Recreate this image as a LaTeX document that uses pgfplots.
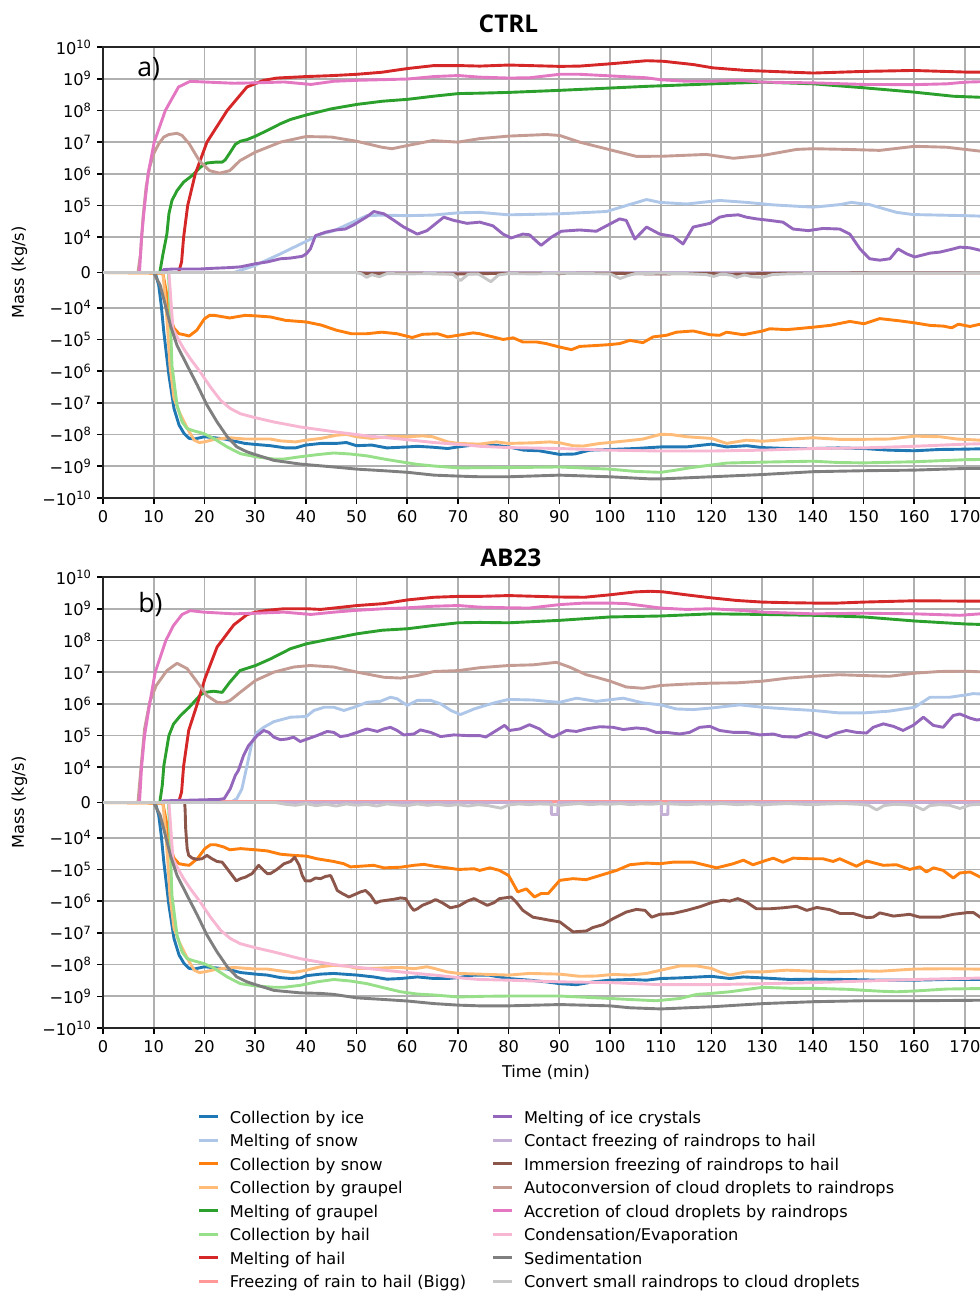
\documentclass[border=0pt]{standalone}
\usepackage{fontspec}
\setmainfont{DejaVu Sans}
\newfontfamily\osans{Open Sans}
\usepackage{pgfplots}
\pgfplotsset{compat=1.18}
\definecolor{c1}{HTML}{1F77B4}
\definecolor{c2}{HTML}{AEC7E8}
\definecolor{c3}{HTML}{FF7F0E}
\definecolor{c4}{HTML}{FFBB78}
\definecolor{c5}{HTML}{2CA02C}
\definecolor{c6}{HTML}{98DF8A}
\definecolor{c7}{HTML}{D62728}
\definecolor{c8}{HTML}{FF9896}
\definecolor{c9}{HTML}{9467BD}
\definecolor{c10}{HTML}{C5B0D5}
\definecolor{c11}{HTML}{8C564B}
\definecolor{c12}{HTML}{C49C94}
\definecolor{c13}{HTML}{E377C2}
\definecolor{c14}{HTML}{F7B6D2}
\definecolor{c15}{HTML}{7F7F7F}
\definecolor{c16}{HTML}{C7C7C7}
\definecolor{gridc}{HTML}{B0B0B0}
\newcommand\tp[1]{10\raisebox{0.36em}{\fontsize{5.7pt}{6pt}\selectfont #1}}
\pgfplotsset{
  panel/.style={
    scale only axis, width=443.65pt, height=225.5pt,
    xmin=0, xmax=175, ymin=-7.11111, ymax=7.11111,
    xtick={0,10,...,170},
    xticklabels={0,10,20,30,40,50,60,70,80,90,100,110,120,130,140,150,160,170},
    ytick={-7.11111,-6.11111,-5.11111,-4.11111,-3.11111,-2.11111,-1.11111,0,1.11111,2.11111,3.11111,4.11111,5.11111,6.11111,7.11111},
    yticklabels={−\tp{10},−\tp{9},−\tp{8},−\tp{7},−\tp{6},−\tp{5},−\tp{4},0,\tp{4},\tp{5},\tp{6},\tp{7},\tp{8},\tp{9},\tp{10}},
    tick align=outside, tick pos=left, major tick length=2.9pt,
    tick style={black, line width=0.8pt},
    axis line style={black!85, line width=0.9pt},
    grid=major, major grid style={gridc, line width=0.9pt},
    xticklabel style={anchor=north, inner sep=0pt, yshift=-2.9pt},
    yticklabel style={anchor=east, inner sep=0pt, xshift=-2.9pt},
    y filter/.expression={abs(y)<10000 ? y*0.000111111 : (y<0 ? -1 : 1)*(ln(abs(y)+1)*0.4342945-2.888889)},
    every axis plot/.append style={line width=1.45pt, line join=round, no markers},
  },
}
\begin{document}
\begin{tikzpicture}[font=\fontsize{8.1pt}{9.7pt}\selectfont]
\path[use as bounding box] (0pt,0pt) rectangle (490pt,-645.5pt);

%================ CTRL =================
\begin{axis}[panel, at={(51.5pt,-249pt)}, anchor=south west]
\addplot[c1] coordinates {(0,0)(10.3,0)(11,-3700)(11.5,-9500)(12,-5.9e4)(13,-1.35e6)(14,-1.5e7)(15,-5e7)(16,-9.3e7)(17,-1.32e8)(18,-1.38e8)(20,-1.17e8)(22,-1.26e8)(24,-1.38e8)(26,-1.62e8)(28,-1.9e8)(30,-2.04e8)(33,-2.24e8)(36,-2.63e8)(38,-2.63e8)(40,-2.14e8)(43,-1.9e8)(46,-1.9e8)(48,-1.78e8)(50,-2.24e8)(53,-2.14e8)(56,-2.63e8)(60,-2.45e8)(62,-2.34e8)(65,-2.5e8)(68,-2.75e8)(70,-2.45e8)(73,-2.14e8)(76,-2.04e8)(80,-2.45e8)(83,-3.1e8)(86,-3.24e8)(90,-4.2e8)(93,-4.1e8)(96,-3.1e8)(100,-2.95e8)(105,-2.75e8)(110,-2.45e8)(115,-2.45e8)(120,-2e8)(123,-2.45e8)(127,-2.24e8)(130,-2.57e8)(135,-2.75e8)(140,-2.75e8)(145,-2.63e8)(150,-2.75e8)(155,-3.1e8)(160,-3.24e8)(165,-2.95e8)(170,-2.88e8)(176,-2.75e8)};
\addplot[c2] coordinates {(0,0)(25.8,0)(30,2000)(35,5300)(40,8800)(43,1.26e4)(45.5,1.6e4)(50,3.4e4)(52,4.8e4)(55,5e4)(60,4.8e4)(65,5e4)(70,5.9e4)(74.3,6.1e4)(80,5.1e4)(90,5.5e4)(99.3,6.5e4)(103.2,1e5)(107.2,1.55e5)(109.8,1.26e5)(115.1,1.12e5)(121.6,1.45e5)(126.9,1.26e5)(132.2,1.05e5)(140.1,8.9e4)(145.3,1.07e5)(147.6,1.26e5)(151.2,1.07e5)(156.5,6.1e4)(159.8,5.2e4)(165,5e4)(170.1,4.8e4)(176,4.5e4)};
\addplot[c3] coordinates {(0,0)(11.8,-200)(12.5,-5600)(13.1,-1.74e4)(14,-4.4e4)(15,-6.6e4)(16,-7.1e4)(17,-7.8e4)(18.5,-5.1e4)(20,-2.24e4)(21,-1.74e4)(22,-1.74e4)(25,-2.1e4)(28,-1.74e4)(30,-1.8e4)(33,-1.95e4)(36,-2.5e4)(40,-2.8e4)(43,-3.5e4)(46,-5.1e4)(49,-6.6e4)(52,-6.6e4)(55,-5.9e4)(58,-6.6e4)(61,-8.7e4)(63,-6.9e4)(66,-6.6e4)(68,-8.3e4)(70,-7.4e4)(73,-6.2e4)(74.3,-6.6e4)(76.9,-8.3e4)(78.9,-1e5)(80.9,-8.9e4)(82.8,-1.2e5)(85.5,-1.2e5)(87.4,-1.35e5)(90.1,-1.74e5)(92.4,-2.1e5)(94,-1.66e5)(97.3,-1.55e5)(100,-1.45e5)(101.9,-1.35e5)(103.9,-1.07e5)(106.5,-1.26e5)(108.5,-8.3e4)(111.1,-7.4e4)(113.1,-5.9e4)(116.4,-5.4e4)(119.7,-7.1e4)(121.6,-7.4e4)(123,-5.9e4)(126.3,-7.1e4)(130.1,-5.4e4)(131.5,-4.6e4)(134.8,-4.9e4)(136.8,-4.6e4)(140.1,-4.1e4)(143.4,-3.6e4)(147.3,-2.7e4)(150.1,-3.2e4)(153.2,-2.2e4)(157.2,-2.6e4)(160.1,-3e4)(163.1,-3.6e4)(165.8,-3.8e4)(167.4,-4.3e4)(168.7,-3.3e4)(171,-3.9e4)(173,-3.3e4)(176,-3.3e4)};
\addplot[c4] coordinates {(0,0)(11.8,0)(12.3,-7500)(12.8,-5.9e4)(13.2,-6.6e5)(14,-7.2e6)(15,-1.9e7)(16,-4e7)(17,-8.1e7)(18,-1.5e8)(19,-1.78e8)(20,-1.7e8)(22,-1.41e8)(25,-1.26e8)(28,-1.38e8)(33,-1.38e8)(35,-1.58e8)(38,-1.7e8)(40,-1.5e8)(43,-1.32e8)(46,-1.05e8)(48,-9.8e7)(50,-1.17e8)(53,-1.32e8)(57,-1.12e8)(60,-1.17e8)(63,-1.1e8)(65,-1.17e8)(68,-1.7e8)(70,-1.9e8)(74.3,-2e8)(77.6,-1.7e8)(80,-1.9e8)(84.8,-1.82e8)(88.1,-1.7e8)(90.1,-1.82e8)(92.7,-2.24e8)(94.7,-2.3e8)(98,-1.9e8)(100,-1.78e8)(103.2,-1.58e8)(106.5,-1.38e8)(110,-9.8e7)(112.1,-1e8)(115.1,-1.17e8)(120,-1.32e8)(123,-1.9e8)(126.9,-1.5e8)(130.1,-1.62e8)(135.1,-1.41e8)(140.1,-1.26e8)(145.1,-1.41e8)(150.1,-1.41e8)(155.1,-1.38e8)(160.1,-1.12e8)(165.1,-1.17e8)(168.4,-1.38e8)(173,-1.5e8)(176,-1.5e8)};
\addplot[c5] coordinates {(0,0)(11.2,0)(11.8,5000)(12.6,1.26e4)(13,5.5e4)(13.6,1.45e5)(14.6,2.95e5)(15.9,5.5e5)(17.6,8.9e5)(19.2,1.62e6)(20.5,2.2e6)(22.2,2.34e6)(23.5,2.34e6)(24.1,2.75e6)(25.1,4.8e6)(26.1,8.5e6)(27.1,1.07e7)(28.4,1.2e7)(30.1,1.55e7)(32.4,2.34e7)(35,3.8e7)(37,5.2e7)(40.1,7.2e7)(45,1.12e8)(50.1,1.55e8)(55.1,1.95e8)(60.1,2.24e8)(65.1,2.8e8)(70.1,3.4e8)(74.3,3.5e8)(80,3.7e8)(90.1,4.3e8)(107.2,5.75e8)(120.3,6.9e8)(130.1,7.8e8)(140.1,6.9e8)(149.9,5.2e8)(159.8,3.8e8)(167.7,2.8e8)(173,2.6e8)(176,2.5e8)};
\addplot[c6] coordinates {(0,0)(12.9,0)(13.2,-1e4)(13.6,-6.6e5)(14.6,-1.17e7)(15.6,-4e7)(16.6,-6.5e7)(17.9,-7.6e7)(19.9,-9.3e7)(21.8,-1.32e8)(24.5,-2.45e8)(27.1,-4e8)(30.1,-5e8)(33.7,-5.9e8)(35.7,-5.9e8)(38.9,-5e8)(42.2,-4.3e8)(45.5,-3.8e8)(48.8,-4.1e8)(52.1,-4.7e8)(55.4,-5.9e8)(58.7,-7.2e8)(62,-8.7e8)(65.3,-9.8e8)(70.1,-1.12e9)(80,-1.1e9)(90,-1.05e9)(100,-1.23e9)(105,-1.45e9)(110,-1.55e9)(113,-1.32e9)(116,-1.1e9)(120,-9.1e8)(123,-7.9e8)(130,-7.4e8)(140,-6.9e8)(145,-7.6e8)(150,-7.8e8)(160,-7.2e8)(170,-6.2e8)(176,-6e8)};
\addplot[c7] coordinates {(0,0)(14.9,0)(15.5,3000)(15.9,1e4)(16.7,1e5)(18.2,1e6)(20.5,1e7)(24.5,1e8)(28.4,5.5e8)(31.7,8.9e8)(34.3,1.05e9)(40.1,1.17e9)(45,1.25e9)(50.1,1.38e9)(55,1.6e9)(60.1,2.1e9)(65.3,2.6e9)(70.1,2.6e9)(74.3,2.5e9)(80,2.7e9)(90.1,2.45e9)(94,2.5e9)(100,2.95e9)(107.2,3.7e9)(110.5,3.55e9)(116.4,2.8e9)(120.3,2.2e9)(126.9,1.82e9)(130.2,1.74e9)(140.1,1.51e9)(150,1.7e9)(159.8,1.82e9)(170.1,1.62e9)(176,1.62e9)};
\addplot[c8] coordinates {(0,0)(176,0)};
\addplot[c9] coordinates {(0,0)(11.5,0)(12,840)(13.9,1000)(19.2,1000)(21.8,1200)(25.1,1400)(27.1,1600)(30.1,2500)(32.4,3000)(35,3900)(37,4100)(39.3,4600)(40.1,5300)(40.9,6700)(41.9,1.12e4)(43.9,1.45e4)(45.9,1.7e4)(47.8,1.82e4)(49.5,2.5e4)(52.1,4.5e4)(53.4,6.5e4)(55.4,5.5e4)(57.4,3.4e4)(59.3,2.1e4)(62,1.26e4)(63.9,1.62e4)(67.2,4.3e4)(69.2,3.4e4)(71.8,2.75e4)(74.3,3e4)(76.9,2.3e4)(78.9,1.26e4)(80.5,9800)(82.8,1.26e4)(84.1,1.2e4)(86.4,7700)(88.4,1e4)(90.4,1.55e4)(94,1.7e4)(97.3,1.55e4)(99.3,2.3e4)(101.9,3.8e4)(103.2,3.4e4)(104.9,9500)(107.2,2.1e4)(109.8,1.26e4)(112.4,1.07e4)(114.4,8100)(116.4,2.1e4)(119.7,2.75e4)(121.6,4.3e4)(123,4.8e4)(125.3,5.1e4)(126.9,4.3e4)(128.9,3.8e4)(131.5,3.4e4)(134.1,3e4)(136.1,1.82e4)(139.1,1.62e4)(142,1.9e4)(145.3,1.82e4)(147.3,1.26e4)(149.3,6700)(151.2,3900)(153.2,3500)(155.2,3900)(156.8,6700)(158.5,5300)(160.1,4400)(163.1,5500)(165.1,5800)(167.7,6700)(169,7200)(171,7000)(173,6300)(176,6000)};
\addplot[c10] coordinates {(0,0)(176,0)};
\addplot[c11] coordinates {(0,0)(50,0)(52,-300)(60,-200)(70,-400)(76,-300)(80,-200)(90,-300)(100,-200)(108,-400)(120,-300)(124,-500)(130,-300)(140,-200)(150,-100)(176,-100)};
\addplot[c12] coordinates {(0,0)(6.9,0)(7.4,5300)(7.9,4.3e4)(8.5,3.8e5)(9.2,1.62e6)(10,4.3e6)(11,8.9e6)(12,1.45e7)(13,1.74e7)(14.6,1.9e7)(15.6,1.62e7)(17,8.9e6)(19,2.6e6)(21,1.26e6)(23,1.05e6)(25,1.26e6)(27,2.6e6)(30,4.8e6)(35,1e7)(40,1.5e7)(45,1.45e7)(50,1.07e7)(55,6.9e6)(57,6.2e6)(60,7.8e6)(65,1.12e7)(70,1e7)(74.3,1.29e7)(80,1.55e7)(87.4,1.74e7)(90.1,1.62e7)(94,1e7)(100,5.75e6)(105.2,3.55e6)(110.5,3.6e6)(119,4.1e6)(124.3,3.1e6)(130.1,3.8e6)(136.8,5.9e6)(140.1,6.2e6)(146.6,5.9e6)(153.2,5.5e6)(160.1,7.4e6)(166.4,6.9e6)(173,5.2e6)(176,5e6)};
\addplot[c13] coordinates {(0,0)(7.2,0)(7.6,1e4)(8.2,1e5)(8.9,1e6)(10.1,1e7)(12.3,1e8)(14.9,5.5e8)(17.2,8.3e8)(19.9,7.9e8)(25.8,7.2e8)(30.1,7.4e8)(35.7,7.9e8)(41,6.6e8)(45.5,8.3e8)(50.1,8.9e8)(60.1,9.8e8)(65.3,1.17e9)(70.1,1.26e9)(74.3,1.12e9)(80,1.05e9)(84.1,1.07e9)(90.1,1.38e9)(94,1.38e9)(100,1.23e9)(107.2,1.07e9)(110,9.3e8)(115.1,8.3e8)(120,8.3e8)(125.6,8.9e8)(130.1,7.8e8)(140.1,7.4e8)(150,6.6e8)(160,6.5e8)(166.4,6.9e8)(170.1,7.8e8)(176,8.3e8)};
\addplot[c14] coordinates {(0,0)(13,0)(13.5,-1e4)(13.8,-4.6e4)(14.6,-8.3e4)(15.9,-1.95e5)(17.2,-4e5)(19.2,-1.07e6)(21.2,-3.2e6)(23.2,-8.3e6)(25.1,-1.5e7)(27.1,-2.2e7)(30.1,-2.95e7)(33.7,-4e7)(38.9,-5.75e7)(45.5,-8.1e7)(52.1,-1.1e8)(58.7,-1.38e8)(65.3,-1.78e8)(71.8,-2.14e8)(74.3,-2.34e8)(80,-2.57e8)(90,-2.75e8)(100,-3.1e8)(110,-3.3e8)(120,-3.3e8)(130,-3.1e8)(140,-2.75e8)(150,-2.63e8)(160,-2.34e8)(170,-2e8)(176,-1.9e8)};
\addplot[c15] coordinates {(0,0)(10,0)(11.3,-3700)(12.3,-9300)(13.3,-3.6e4)(14.6,-1.55e5)(16.6,-6.6e5)(18.6,-2.75e6)(20.5,-1.17e7)(22.5,-4e7)(24.5,-1.17e8)(26.4,-2.45e8)(28.4,-3.5e8)(30.1,-4.3e8)(33.7,-6.5e8)(38.9,-8.5e8)(45.5,-1.05e9)(50.1,-1.23e9)(55.4,-1.38e9)(60.1,-1.55e9)(65.3,-1.9e9)(70.1,-2.04e9)(74.3,-2.14e9)(80,-2.14e9)(90,-1.9e9)(100,-2.14e9)(108,-2.5e9)(110,-2.5e9)(120,-2.14e9)(130,-1.82e9)(140,-1.48e9)(150,-1.38e9)(160,-1.32e9)(170,-1.17e9)(176,-1.17e9)};
\addplot[c16] coordinates {(0,0)(50,0)(51,-400)(52,-1400)(53,-600)(54.5,-1200)(56,-300)(60,-400)(65,-300)(69,-500)(70.5,-2300)(72,-500)(74,-400)(76.5,-2600)(78,-700)(80,-300)(85,-400)(90,-200)(95,-300)(100,-400)(102,-1700)(103.5,-900)(105,-300)(110,-200)(115,-300)(119,-600)(120.5,-1100)(122,-400)(124,-800)(125,-1400)(126.5,-700)(128,-1200)(130,-1400)(132,-600)(135,-400)(140,-300)(150,-200)(176,-100)};
\end{axis}

%================ AB23 =================
\begin{axis}[panel, at={(51.5pt,-514pt)}, anchor=south west]
\addplot[c1] coordinates {(0,0)(10.3,0)(11,-3700)(11.5,-9500)(12,-5.9e4)(13,-1.35e6)(14,-1.5e7)(15,-5e7)(16,-9.3e7)(17,-1.32e8)(18,-1.38e8)(20,-1.17e8)(22,-1.26e8)(24.5,-1.38e8)(27.1,-1.78e8)(30.1,-2e8)(32.4,-2.14e8)(35,-2.57e8)(37,-2.75e8)(39,-2.63e8)(40.1,-2.24e8)(42.9,-2e8)(45.5,-1.9e8)(48.2,-2.04e8)(50.1,-2.14e8)(53.4,-2.45e8)(56,-2.88e8)(58.7,-2.75e8)(62,-2.45e8)(65.3,-2.75e8)(67.9,-2.75e8)(70.1,-2.57e8)(73.2,-2.14e8)(76,-2.14e8)(80,-2.75e8)(84.1,-3.1e8)(87.4,-3.5e8)(90.1,-4e8)(93.4,-4.3e8)(96.7,-3.5e8)(100,-3.1e8)(103.9,-2.95e8)(107.2,-3.1e8)(110,-2.75e8)(113.8,-2.63e8)(120,-2.34e8)(123.6,-2.75e8)(126.3,-2.45e8)(130.1,-2.63e8)(135.5,-2.95e8)(140.1,-2.88e8)(146.7,-2.95e8)(153.2,-3.1e8)(160.1,-3.1e8)(166.4,-2.95e8)(176,-2.95e8)};
\addplot[c2] coordinates {(0,0)(25.1,0)(26.4,1100)(27.4,3900)(28.4,1.12e4)(29.4,6.2e4)(30.4,1.26e5)(31.7,1.82e5)(33.7,2.75e5)(37,3.8e5)(40.1,4e5)(41.6,6.2e5)(43.6,7.8e5)(45.5,7.8e5)(47.5,6.2e5)(49.5,7.8e5)(52.1,1.12e6)(54.7,1.2e6)(56.7,1.62e6)(58,1.45e6)(60,8.9e5)(62,1.29e6)(64.6,1.29e6)(66.6,1e6)(68.6,6.2e5)(70.5,4.6e5)(73.2,6.9e5)(75.8,9.3e5)(77.6,1.12e6)(80,1.38e6)(84.8,1.32e6)(88.4,1.17e6)(90.1,1.12e6)(93.4,1.51e6)(97.3,1.2e6)(100,1.35e6)(102.6,1.51e6)(106.5,1.07e6)(110,9.3e5)(113.1,6.9e5)(116.4,6.6e5)(120,7.4e5)(125.6,9.3e5)(130.1,7.8e5)(135.1,6.9e5)(140.1,6.2e5)(145.1,5.2e5)(150.1,5.2e5)(155.1,5.9e5)(160.1,7.8e5)(163.1,1.62e6)(167,1.62e6)(170.1,1.9e6)(171.6,2.1e6)(176,1.95e6)};
\addplot[c3] coordinates {(0,0)(11.8,-200)(12.5,-5400)(13.1,-1.74e4)(14,-4.4e4)(15,-6.6e4)(16.1,-7.1e4)(17,-7.4e4)(18.6,-4.6e4)(20.1,-2.2e4)(21.2,-1.66e4)(22.2,-1.66e4)(23.8,-1.95e4)(25,-2.4e4)(27.1,-2.2e4)(30.1,-2.4e4)(32.4,-2.6e4)(35,-3.3e4)(37.6,-3.6e4)(40.1,-3.8e4)(42.2,-4.6e4)(45.5,-5.6e4)(47.5,-6.6e4)(48.8,-8.3e4)(50.8,-7.9e4)(53.4,-7.4e4)(55.4,-8.9e4)(58.7,-8.5e4)(61.3,-7.4e4)(63.3,-6.9e4)(65.3,-7.9e4)(67.9,-8.9e4)(70.1,-1e5)(73.2,-9.5e4)(74.3,-1.07e5)(76.3,-8.9e4)(78.2,-1.07e5)(80,-1.55e5)(80.9,-2.8e5)(81.8,-5.1e5)(83.5,-4.1e5)(85.1,-7.4e5)(86.4,-5.75e5)(87.8,-5.75e5)(90.1,-2.2e5)(92.7,-1.95e5)(95.3,-2.1e5)(98,-1.55e5)(101.3,-1.07e5)(103.9,-7.1e4)(107.2,-6.3e4)(109.8,-6.6e4)(112.4,-5.9e4)(116.4,-5.9e4)(119.7,-7.9e4)(121,-8.9e4)(124.3,-6.6e4)(126.3,-5.1e4)(128.2,-7.1e4)(130.9,-5.1e4)(132.2,-4.4e4)(134.1,-5.9e4)(136.1,-4.4e4)(139.4,-4.6e4)(142,-4.6e4)(144,-5.6e4)(145.3,-4.6e4)(148.6,-7.9e4)(150.6,-5.4e4)(153.9,-7.4e4)(156.5,-7.1e4)(159.1,-1e5)(161.1,-8.3e4)(162.4,-1.2e5)(163.8,-8.9e4)(165.7,-1.07e5)(167.7,-1.86e5)(169,-1.29e5)(171,-1.2e5)(173,-1.74e5)(176,-2e5)};
\addplot[c4] coordinates {(0,0)(11.8,0)(12.3,-7500)(12.8,-5.9e4)(13.2,-6.6e5)(14,-7.2e6)(15,-1.9e7)(16,-4e7)(17,-8.1e7)(18,-1.5e8)(19,-1.78e8)(20,-1.7e8)(22.6,-1.38e8)(25.8,-1.23e8)(30.1,-1.38e8)(32.4,-1.38e8)(35,-1.58e8)(37.6,-1.78e8)(40.1,-1.5e8)(42.9,-1.17e8)(45.5,-1.05e8)(48.2,-1.12e8)(50.1,-1.32e8)(53.4,-1.32e8)(56,-1.26e8)(58.7,-1.23e8)(61.3,-1.35e8)(63.9,-1.17e8)(65.3,-1.32e8)(67.9,-1.7e8)(70.1,-1.9e8)(74.3,-2e8)(80,-2.14e8)(84.1,-1.9e8)(90.1,-2e8)(94,-2.34e8)(97.3,-2.29e8)(100.6,-2.04e8)(103.9,-2.14e8)(107.2,-1.9e8)(110,-1.5e8)(113.8,-1.1e8)(117.1,-1.1e8)(120,-1.32e8)(121.6,-1.7e8)(123.6,-2.14e8)(126.9,-1.7e8)(130.1,-1.7e8)(134.8,-1.5e8)(140.1,-1.62e8)(144,-1.7e8)(150.1,-1.58e8)(153.2,-1.62e8)(160.1,-1.38e8)(166.4,-1.35e8)(176,-1.41e8)};
\addplot[c5] coordinates {(0,0)(11.2,0)(11.7,5000)(12,1.12e4)(13,1e5)(13.9,2.3e5)(15.3,4.3e5)(17,7.8e5)(19.2,1.9e6)(20.1,2.3e6)(21.8,2.5e6)(23.5,2.3e6)(25,4.8e6)(27,1.12e7)(30.1,1.62e7)(33,2.6e7)(37,5.5e7)(40.1,7.8e7)(45,1.12e8)(50.1,1.62e8)(55.1,2.1e8)(60.1,2.34e8)(65.1,2.95e8)(70.1,3.6e8)(74.3,3.7e8)(80,3.6e8)(90.1,4.3e8)(100,5.5e8)(110,5.9e8)(120,6.9e8)(130.1,6.6e8)(140.1,6.2e8)(150.1,5.5e8)(160.1,4.1e8)(170.1,3.3e8)(176,3.1e8)};
\addplot[c6] coordinates {(0,0)(12.9,0)(13.2,-1e4)(13.6,-6.6e5)(14.6,-1.17e7)(15.6,-4e7)(16.6,-6.5e7)(17.9,-7.6e7)(19.9,-9.3e7)(21.8,-1.26e8)(24.5,-2.45e8)(27.1,-4e8)(30.1,-4.7e8)(33.7,-5.2e8)(35.7,-5.2e8)(38.9,-4.5e8)(42.2,-3.5e8)(45.5,-2.95e8)(48.8,-3.3e8)(52.1,-4e8)(55.4,-5.4e8)(58.7,-7.2e8)(62,-8.5e8)(65.3,-9.1e8)(70.1,-1.05e9)(75,-1e9)(80,-9.8e8)(90.1,-9.8e8)(100,-1.17e9)(103.9,-1.26e9)(109.1,-1.38e9)(113.8,-1.17e9)(117.1,-8.7e8)(120,-8.1e8)(123.6,-7.2e8)(130.1,-5.2e8)(135.5,-5.6e8)(140.1,-5.6e8)(146.7,-6e8)(153.2,-6.9e8)(156.5,-7.2e8)(160.1,-6.8e8)(166.4,-5.9e8)(176,-5.6e8)};
\addplot[c7] coordinates {(0,0)(14.9,0)(15.5,3000)(15.9,1.1e4)(16.9,1.45e5)(18.6,1e6)(20.1,6.2e6)(22.5,6.2e7)(25.8,3.1e8)(28.4,6.5e8)(30.1,7.8e8)(32.4,8.9e8)(35.7,1e9)(40.1,1e9)(42.9,9.5e8)(45.5,1.05e9)(50.1,1.26e9)(55.4,1.45e9)(60.1,1.9e9)(65.3,2.3e9)(70.1,2.45e9)(74.3,2.45e9)(80,2.6e9)(90.1,2.34e9)(95,2.3e9)(100,2.75e9)(105,3.4e9)(108,3.55e9)(110.5,3.4e9)(115,2.75e9)(120,2.2e9)(125,1.82e9)(130,1.62e9)(135,1.55e9)(140,1.51e9)(145,1.51e9)(150,1.62e9)(160,1.78e9)(170,1.74e9)(176,1.74e9)};
\addplot[c8] coordinates {(0,0)(20,0)(21,300)(176,300)};
\addplot[c9] coordinates {(0,0)(11.5,0)(12,470)(21.8,840)(22.5,800)(23.9,1100)(25.1,3900)(26.1,7700)(26.7,9100)(27.7,2.3e4)(28.7,4.8e4)(30.4,1e5)(31.7,1.45e5)(32.7,1.26e5)(33.7,8.9e4)(35,7.4e4)(36.3,7.8e4)(37.6,8.9e4)(38.9,6.5e4)(40.3,7.8e4)(42.2,1e5)(44.2,1.35e5)(45.5,1.26e5)(46.8,9.3e4)(48.2,1e5)(50.1,1.26e5)(52.1,1.62e5)(54.1,1.35e5)(55.4,1.62e5)(56.7,1.82e5)(58,1.45e5)(59.3,1.05e5)(61.3,1.12e5)(62.6,1.51e5)(64.6,1.26e5)(66.6,9.3e4)(69.2,1.05e5)(71.8,1e5)(74.3,1e5)(75.5,9e4)(77.6,1.45e5)(79.2,2.1e5)(80.2,1.45e5)(82.2,1.62e5)(84.1,2.2e5)(86.1,1.62e5)(87.4,1.12e5)(88.75,8.9e4)(91.4,1.45e5)(93.4,1.35e5)(95.3,1.62e5)(98,1.9e5)(100.6,1.82e5)(102.6,1.55e5)(105.2,1.74e5)(107.2,1.62e5)(109.1,1.26e5)(111.1,1.26e5)(113.75,1.12e5)(115.7,1.26e5)(117.7,1.82e5)(119.7,1.95e5)(121.6,1.45e5)(124.3,1.26e5)(126.9,1.26e5)(129.5,1.05e5)(132.2,1.12e5)(134.1,9.3e4)(136.8,8.9e4)(139.4,1.26e5)(142.7,8.7e4)(144.7,1.2e5)(146.6,1.45e5)(148.6,1.26e5)(150.6,1.2e5)(151.9,1.82e5)(153.9,2.34e5)(155.9,1.95e5)(157.8,1.45e5)(159.8,2.1e5)(161.8,3.8e5)(163.75,2.1e5)(165.7,1.82e5)(167.7,4.3e5)(169,4.8e5)(171,3.55e5)(172.3,3.1e5)(176,3.6e5)};
\addplot[c10] coordinates {(0,0)(88.4,0)(88.45,-3400)(89.7,-3400)(89.75,0)(110.1,0)(110.15,-3400)(111.4,-3400)(111.45,0)(176,0)};
\addplot[c11] coordinates {(0,0)(16.1,0)(16.2,-2000)(16.3,-7300)(16.6,-2.2e4)(16.9,-3.6e4)(17.6,-4.4e4)(18.6,-4.8e4)(19.5,-4.6e4)(20.5,-3.6e4)(21.5,-4.6e4)(22.5,-5.6e4)(23.5,-5.9e4)(24.5,-9.5e4)(25.5,-1.55e5)(26.3,-2.3e5)(27.1,-1.95e5)(28.1,-1.74e5)(29.4,-1.35e5)(30.7,-7.4e4)(31.7,-1.07e5)(32.4,-1.35e5)(33,-1.35e5)(34.3,-1e5)(35.7,-6.6e4)(37,-5.6e4)(37.8,-4.1e4)(38.7,-7.4e4)(39.3,-1.55e5)(39.9,-2.3e5)(40.9,-2.3e5)(41.9,-1.86e5)(42.9,-1.95e5)(43.9,-1.66e5)(44.9,-1.55e5)(45.5,-2.5e5)(46.2,-4.6e5)(47.2,-5.75e5)(48.5,-7.4e5)(49.8,-6e5)(50.8,-5.1e5)(51.8,-4.6e5)(52.8,-6.6e5)(53.8,-1.15e6)(54.7,-1e6)(56.1,-9.3e5)(57.4,-8.7e5)(58.7,-7.9e5)(59.7,-8.3e5)(60.7,-1.5e6)(61.3,-1.95e6)(62,-1.74e6)(63,-1.35e6)(64.3,-1.12e6)(65.6,-8.9e5)(66.9,-1.12e6)(68.5,-1.62e6)(70.2,-1.41e6)(71.8,-1e6)(73.2,-8.3e5)(74.5,-1.07e6)(75.8,-1.35e6)(77.1,-1.12e6)(78.2,-8.3e5)(80.5,-7.4e5)(81.5,-1.07e6)(82.8,-1.95e6)(84.8,-3.2e6)(86.4,-3.55e6)(88.1,-4e6)(90.1,-4.5e6)(91.4,-6.5e6)(92.7,-9.3e6)(95.3,-8.7e6)(96.6,-6.8e6)(98.6,-5.5e6)(100.6,-3.55e6)(103.2,-2.2e6)(105.2,-1.82e6)(106.9,-1.95e6)(108.2,-3.2e6)(109.8,-2.6e6)(112.4,-2.45e6)(115.1,-1.95e6)(117.7,-1.5e6)(120.3,-1.07e6)(122.3,-9.3e5)(123.6,-1e6)(125.2,-8.3e5)(126.9,-1.07e6)(128.9,-1.74e6)(131.5,-1.74e6)(134.1,-1.62e6)(136.8,-1.45e6)(138.8,-1.95e6)(140.8,-1.58e6)(143.4,-1.86e6)(145.4,-2.45e6)(148,-2.45e6)(150.6,-3.3e6)(151.9,-3.2e6)(153.2,-2.34e6)(155.9,-2.95e6)(159.1,-2.6e6)(161.1,-3.2e6)(165.1,-3.2e6)(167.7,-2.6e6)(170.4,-2.3e6)(171.7,-2.3e6)(173,-3.2e6)(176,-3.55e6)};
\addplot[c12] coordinates {(0,0)(6.9,0)(7.5,1e4)(8.2,1.62e5)(9.2,1.12e6)(10.5,3.8e6)(12.6,1.12e7)(14.6,1.9e7)(16.6,1.29e7)(18.6,4.8e6)(20.5,1.82e6)(22.5,1.12e6)(23.8,1.07e6)(25.1,1.29e6)(27.1,2.34e6)(30.1,5.5e6)(33.7,1e7)(37.6,1.45e7)(40.9,1.62e7)(45.5,1.45e7)(50.1,1e7)(55.4,6.9e6)(58.7,6.5e6)(62,7.8e6)(65.3,1.05e7)(70.1,1.12e7)(74.3,1.38e7)(80,1.62e7)(84.8,1.7e7)(89.4,2.04e7)(92,1.45e7)(95.3,8.3e6)(97.3,6.9e6)(100,5.2e6)(103.2,3.4e6)(106.5,3.1e6)(110,3.8e6)(115.1,4.2e6)(120,4.5e6)(125,4.6e6)(130.1,5.2e6)(135.1,6.5e6)(140.1,7.4e6)(145.1,8.3e6)(150.1,7.8e6)(155.1,7.4e6)(160.1,9.3e6)(165.1,1.05e7)(170.1,1.07e7)(176,9.8e6)};
\addplot[c13] coordinates {(0,0)(7.2,0)(7.6,1e4)(8.2,1e5)(9.2,1e6)(10.3,1e7)(12.4,1e8)(13.9,2.95e8)(15.6,6.6e8)(17.2,8.7e8)(19.9,7.8e8)(25.8,6.9e8)(30.1,7.2e8)(35.7,7.8e8)(41,6.6e8)(45.5,7.8e8)(50.1,8.9e8)(55.4,1e9)(60.1,1.07e9)(65.3,1.2e9)(70.1,1.26e9)(74.3,1.12e9)(80,1.07e9)(84.1,1.05e9)(90.1,1.35e9)(95,1.51e9)(100,1.51e9)(103.2,1.45e9)(107.2,1.2e9)(110,1.05e9)(115.1,9.5e8)(120,1e9)(125.6,8.9e8)(130.1,7.8e8)(140.1,6.9e8)(150.1,7.2e8)(160.1,6.9e8)(165.1,6.5e8)(169,6.2e8)(173,6.9e8)(176,7.4e8)};
\addplot[c14] coordinates {(0,0)(13,0)(13.5,-1e4)(13.8,-4.6e4)(14.6,-8.3e4)(15.9,-1.95e5)(17.2,-4e5)(19.2,-1.07e6)(21.2,-3.2e6)(23.2,-8.3e6)(25.1,-1.5e7)(27.1,-2.2e7)(30.1,-2.95e7)(33.7,-4e7)(38.9,-6.5e7)(45.5,-1e8)(52.1,-1.32e8)(58.7,-1.7e8)(65.3,-2.14e8)(71.8,-2.75e8)(74.3,-2.95e8)(80,-3.1e8)(90.1,-3.5e8)(100,-3.7e8)(110,-4.3e8)(120,-4.3e8)(130.1,-4e8)(140.1,-3.7e8)(150.1,-3.3e8)(160.1,-2.95e8)(176,-2.6e8)};
\addplot[c15] coordinates {(0,0)(10,0)(11.3,-3700)(12.3,-9300)(13.3,-3.6e4)(14.6,-1.55e5)(16.6,-6.6e5)(18.6,-2.75e6)(20.5,-1.17e7)(22.5,-4e7)(24.5,-1.17e8)(26.4,-2.45e8)(28.4,-3.5e8)(30.1,-4.3e8)(33.7,-6.5e8)(38.9,-7.8e8)(42.9,-8.1e8)(45.5,-8.7e8)(50.1,-1.12e9)(55.4,-1.26e9)(60.1,-1.41e9)(65.3,-1.7e9)(70.1,-1.9e9)(74.3,-2e9)(80,-2e9)(90.1,-1.82e9)(100,-2e9)(103.9,-2.3e9)(110,-2.5e9)(120,-2.14e9)(130.1,-1.7e9)(140.1,-1.48e9)(150.1,-1.38e9)(160.1,-1.38e9)(176,-1.32e9)};
\addplot[c16] coordinates {(0,0)(34,0)(36,-500)(38,-800)(40,-300)(42,-900)(44,-500)(46,-1000)(48,-400)(50,-800)(52,-500)(54,-1000)(56,-400)(58,-700)(60,-900)(62,-400)(64,-800)(66,-500)(68,-900)(70,-600)(72,-1000)(74,-600)(76,-900)(78.5,-1600)(80,-700)(82,-400)(84,-600)(86,-400)(88,-500)(90,-800)(92,-500)(94,-300)(96,-600)(98,-400)(100,-500)(102,-300)(104,-600)(106,-400)(108,-500)(110,-300)(112,-400)(115,-600)(118,-400)(120,-500)(122,-300)(125,-600)(128,-400)(130,-700)(132,-500)(135,-300)(138,-500)(140,-600)(143,-400)(146,-300)(149,-500)(151,-800)(152.6,-2100)(154,-900)(156,-500)(158,-600)(160,-900)(161.8,-2100)(163,-900)(165,-600)(167,-800)(169,-1700)(171,-700)(173,-500)(176,-600)};
\end{axis}

%================ legend =================
\begin{axis}[hide axis, scale only axis, width=10pt, height=10pt,
  at={(98.8pt,-555.45pt)}, anchor=north west, xmin=0, xmax=1, ymin=0, ymax=1,
  legend columns=2,
  legend image code/.code={\draw[#1, line width=1.45pt] (0pt,3.3pt) -- (9.65pt,3.3pt); \path (15.25pt,0pt);},
  legend style={at={(0,1)}, anchor=north west, draw=none, fill=none,
     inner sep=0pt, outer sep=0pt, column sep=0pt, row sep=3.75pt,
     cells={anchor=base west},
     /tikz/column 2/.style={text width=130.85pt},
     nodes={inner sep=0pt, outer sep=0pt, text height=6.2pt, text depth=1.8pt, align=left, anchor=base west}},
]
\addlegendimage{c1}\addlegendentry{Collection by ice}
\addlegendimage{c9}\addlegendentry{Melting of ice crystals}
\addlegendimage{c2}\addlegendentry{Melting of snow}
\addlegendimage{c10}\addlegendentry{Contact freezing of raindrops to hail}
\addlegendimage{c3}\addlegendentry{Collection by snow}
\addlegendimage{c11}\addlegendentry{Immersion freezing of raindrops to hail}
\addlegendimage{c4}\addlegendentry{Collection by graupel}
\addlegendimage{c12}\addlegendentry{Autoconversion of cloud droplets to raindrops}
\addlegendimage{c5}\addlegendentry{Melting of graupel}
\addlegendimage{c13}\addlegendentry{Accretion of cloud droplets by raindrops}
\addlegendimage{c6}\addlegendentry{Collection by hail}
\addlegendimage{c14}\addlegendentry{Condensation/Evaporation}
\addlegendimage{c7}\addlegendentry{Melting of hail}
\addlegendimage{c15}\addlegendentry{Sedimentation}
\addlegendimage{c8}\addlegendentry{Freezing of rain to hail (Bigg)}
\addlegendimage{c16}\addlegendentry{Convert small raindrops to cloud droplets}
\end{axis}

%================ texts =================
\node[font=\osans\bfseries\fontsize{12.2pt}{14pt}\selectfont, anchor=base, inner sep=0pt] at (254.25pt,-16.15pt) {CTRL};
\node[font=\osans\bfseries\fontsize{12.2pt}{14pt}\selectfont, anchor=base, inner sep=0pt] at (255.4pt,-283pt) {AB23};
\node[font=\osans\fontsize{13.3pt}{15pt}\selectfont, anchor=base west, inner sep=0pt] at (68.5pt,-38.25pt) {a)};
\node[font=\osans\fontsize{13.3pt}{15pt}\selectfont, anchor=base west, inner sep=0pt] at (69pt,-306pt) {b)};
\node[rotate=90, anchor=base, inner sep=0pt] at (12pt,-136.25pt) {Mass (kg/s)};
\node[rotate=90, anchor=base, inner sep=0pt] at (12pt,-401.25pt) {Mass (kg/s)};
\node[anchor=base, inner sep=0pt] at (273pt,-538.75pt) {Time (min)};
\end{tikzpicture}
\end{document}
